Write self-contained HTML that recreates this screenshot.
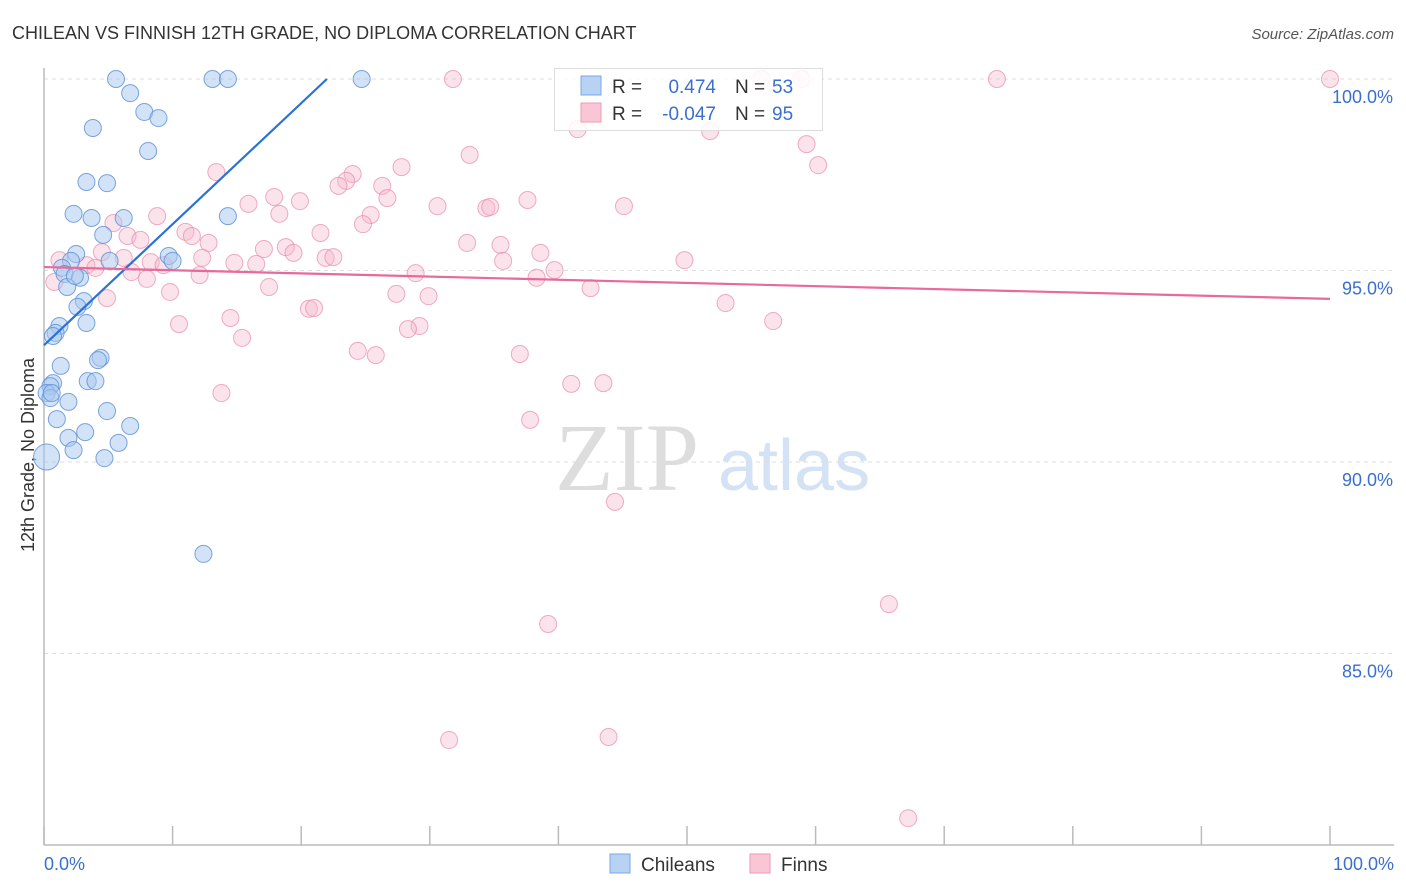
<!DOCTYPE html>
<html><head><meta charset="utf-8"><style>
body{margin:0;background:#fff;font-family:"Liberation Sans",sans-serif;}
svg{display:block}
</style></head><body>
<svg id="chart" width="1406" height="892" xmlns="http://www.w3.org/2000/svg">
<text x="12" y="39" font-size="18" fill="#333">CHILEAN VS FINNISH 12TH GRADE, NO DIPLOMA CORRELATION CHART</text>
<text x="1394" y="39" font-size="15" fill="#555" font-style="italic" text-anchor="end">Source: ZipAtlas.com</text>
<text transform="translate(34,455) rotate(-90)" font-size="18" fill="#333" text-anchor="middle">12th Grade, No Diploma</text>
<text x="555" y="490" font-size="96" fill="#ddd" font-family="Liberation Serif,serif">ZIP</text>
<text x="718" y="490" font-size="72" fill="#d3e2f5">atlas</text>
<g id="grid"></g><g id="axes"></g><g id="pink"></g><g id="blue"></g><g id="lines"></g>
<g>
<rect x="554.5" y="68.5" width="268" height="62" fill="#fff" fill-opacity="0.85" stroke="#ddd"/>
<rect x="581" y="76" width="20" height="19" fill="#b8d2f4" stroke="#7aa8e6"/>
<rect x="581" y="103" width="20" height="19" fill="#f9c6d6" stroke="#ee9ab5"/>
<text x="612" y="93" font-size="19" fill="#333">R =</text><text x="716" y="93" font-size="19" fill="#3a6fd0" text-anchor="end">0.474</text>
<text x="735" y="93" font-size="19" fill="#333">N =</text><text x="772" y="93" font-size="19" fill="#3a6fd0">53</text>
<text x="612" y="120" font-size="19" fill="#333">R =</text><text x="716" y="120" font-size="19" fill="#3a6fd0" text-anchor="end">-0.047</text>
<text x="735" y="120" font-size="19" fill="#333">N =</text><text x="772" y="120" font-size="19" fill="#3a6fd0">95</text>
</g>
<g>
<rect x="610" y="854" width="20" height="19" fill="#b8d2f4" stroke="#7aa8e6"/><text x="641" y="871" font-size="19" fill="#333">Chileans</text>
<rect x="750" y="854" width="20" height="19" fill="#f9c6d6" stroke="#ee9ab5"/><text x="781" y="871" font-size="19" fill="#333">Finns</text>
</g>
</svg>
<script>
const blueX=[5.6,13.1,14.3,24.7,6.7,7.8,8.9,3.8,8.1,3.3,4.9,2.3,3.7,6.2,14.3,4.6,2.5,5.1,9.7,10.0,2.1,1.4,1.6,2.8,1.8,3.1,2.6,3.3,1.2,0.9,0.7,4.4,4.2,1.3,0.7,0.5,3.4,4.0,0.2,1.9,4.9,1.0,6.7,3.2,1.9,5.8,2.3,4.7,0.2,12.4,0.5,0.6,2.4];
const blueY=[100,100,100,100,99.63,99.14,98.98,98.72,98.12,97.31,97.28,96.48,96.37,96.37,96.42,95.93,95.43,95.25,95.38,95.25,95.25,95.07,94.91,94.81,94.57,94.20,94.05,93.63,93.55,93.37,93.29,92.72,92.66,92.51,92.06,91.98,92.11,92.11,91.80,91.57,91.33,91.12,90.94,90.78,90.63,90.50,90.31,90.10,90.13,87.60,91.67,91.80,94.86];
const pinkX=[31.8,55.8,58.9,74.1,100,41.5,51.8,59.3,33.1,60.2,13.4,27.8,24.0,23.5,22.9,26.3,17.9,19.9,15.9,26.7,30.6,37.6,34.4,34.7,45.1,8.8,18.3,25.4,24.8,5.4,21.5,11.0,11.5,6.5,7.5,12.8,4.5,17.1,18.8,19.4,32.9,35.5,38.6,21.9,22.5,6.2,1.2,3.3,4.0,8.3,9.3,12.3,14.8,16.5,35.7,49.8,39.7,28.9,12.1,6.8,8.0,38.3,0.8,17.5,42.5,9.8,27.4,29.9,4.9,20.6,21.0,53.0,14.5,10.5,56.7,29.2,28.3,15.4,24.4,25.8,37.0,41.0,43.5,13.8,37.8,44.4,39.2,65.7,31.5,43.9,67.2];
const pinkY=[100,100,100,100,100,98.69,98.64,98.30,98.02,97.75,97.57,97.70,97.52,97.34,97.21,97.21,96.92,96.81,96.74,96.89,96.68,96.84,96.63,96.66,96.68,96.42,96.48,96.45,96.21,96.24,95.98,96.01,95.90,95.90,95.80,95.72,95.48,95.56,95.61,95.46,95.72,95.67,95.46,95.33,95.35,95.33,95.27,95.14,95.07,95.22,95.14,95.33,95.20,95.17,95.25,95.27,95.01,94.93,94.88,94.96,94.78,94.81,94.70,94.57,94.54,94.44,94.39,94.33,94.28,94.00,94.02,94.15,93.76,93.60,93.68,93.55,93.47,93.24,92.90,92.79,92.82,92.04,92.06,91.80,91.10,88.96,85.77,86.29,82.74,82.82,80.70];
const blueLine=[[0,93.05],[22.0,100]];
const pinkLine=[[0,95.09],[100,94.26]];
const yTicks=[100,95,90,85];
const yTickLabels=["100.0%","95.0%","90.0%","85.0%"];
const xTicks=[0,10,20,30,40,50,60,70,80,90,100];
const NS="http://www.w3.org/2000/svg";
const sx=v=>44+v*12.86;
const sy=v=>79+(100-v)*38.3;
function mk(tag,attrs,parent){const e=document.createElementNS(NS,tag);for(const k in attrs)e.setAttribute(k,attrs[k]);document.getElementById(parent).appendChild(e);return e;}
yTicks.forEach((t,i)=>{
 const l=mk('line',{x1:44,x2:1394,y1:sy(t),y2:sy(t),stroke:'#ddd','stroke-dasharray':'4,4'},'grid');
 
 
 const tx=mk('text',{x:1393,y:sy(t)+24,'font-size':18,fill:'#3a6fd0','text-anchor':'end'},'grid');
 tx.textContent=yTickLabels[i];
 
 
});
let ax=mk('line',{x1:44,x2:44,y1:68,y2:845,stroke:'#bbb','stroke-width':1.5},'axes');


ax=mk('line',{x1:44,x2:1394,y1:845,y2:845,stroke:'#bbb','stroke-width':1.5},'axes');


xTicks.forEach(t=>{
 const l=mk('line',{x1:sx(t),x2:sx(t),y1:826,y2:845,stroke:'#bbb','stroke-width':1.5},'axes');
 
 
});
let xl=mk('text',{x:44,y:870,'font-size':18,fill:'#3a6fd0'},'axes');xl.textContent='0.0%';


xl=mk('text',{x:1394,y:870,'font-size':18,fill:'#3a6fd0','text-anchor':'end'},'axes');xl.textContent='100.0%';


pinkX.forEach((x,i)=>{
 const c=mk('circle',{cx:sx(x),cy:sy(pinkY[i]),r:8.5,fill:'#f5b8cc','fill-opacity':0.4,stroke:'#e88aa8','stroke-opacity':0.7},'pink');
 
 
});
blueX.forEach((x,i)=>{
 const c=mk('circle',{cx:sx(x),cy:sy(blueY[i]),r:(i===48?13:8.5),fill:'#a8c8f0','fill-opacity':0.5,stroke:'#5b8fd6','stroke-opacity':0.8},'blue');
 
 
});
let rl=mk('line',{x1:sx(blueLine[0][0]),y1:sy(blueLine[0][1]),x2:sx(blueLine[1][0]),y2:sy(blueLine[1][1]),stroke:'#2a72d8','stroke-width':2.2},'lines');


rl=mk('line',{x1:sx(pinkLine[0][0]),y1:sy(pinkLine[0][1]),x2:sx(pinkLine[1][0]),y2:sy(pinkLine[1][1]),stroke:'#e8699a','stroke-width':2.2},'lines');


</script>
</body></html>
